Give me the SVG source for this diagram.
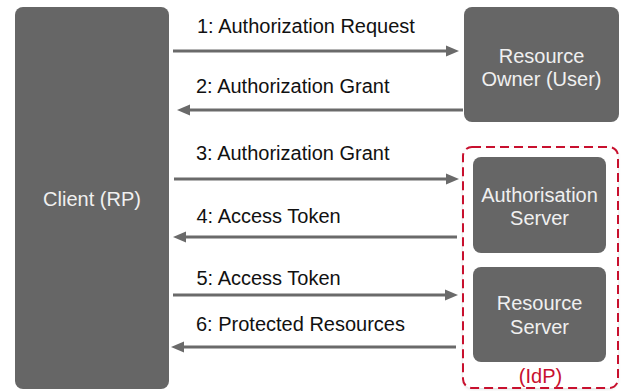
<svg xmlns="http://www.w3.org/2000/svg" width="621" height="391" viewBox="0 0 621 391">
<style>
.box{fill:#666666;}
.bt{font-family:"Liberation Sans",Arial,sans-serif;font-size:20px;fill:#f0f0f0;text-anchor:middle;}
.lbl{font-family:"Liberation Sans",Arial,sans-serif;font-size:20px;fill:#111111;}
.conn line{stroke:#6a6a6a;stroke-width:3;marker-end:url(#ah);}
</style>
<defs>
<marker id="ah" markerUnits="userSpaceOnUse" markerWidth="14" markerHeight="12" refX="0" refY="6" orient="auto">
<path d="M0,0.5 L13,6 L0,11.5 z" fill="#6a6a6a"/>
</marker>
<filter id="sh" x="-10%" y="-10%" width="120%" height="120%">
<feDropShadow dx="0" dy="1" stdDeviation="1.5" flood-color="#000" flood-opacity="0.15"/>
</filter>
</defs>
<rect width="621" height="391" fill="#ffffff"/>
<g id="idp">
<rect x="463" y="147" width="155" height="241" rx="9" fill="#ffffff" filter="url(#sh)"/>
<rect x="463" y="147" width="155" height="241" rx="9" fill="none" stroke="#c8102e" stroke-width="2" stroke-dasharray="9,5"/>
<text x="540.5" y="383" font-family="'Liberation Sans',Arial,sans-serif" font-size="20" fill="#c8102e" text-anchor="middle">(IdP)</text>
</g>
<g id="client">
<rect class="box" x="15" y="7" width="154" height="382" rx="8"/>
<text class="bt" x="92" y="206">Client (RP)</text>
</g>
<g id="owner">
<rect class="box" x="464" y="7" width="155" height="115" rx="8"/>
<text class="bt" x="541.5" y="63">Resource</text>
<text class="bt" x="541.5" y="85.5">Owner (User)</text>
</g>
<g id="authserver">
<rect class="box" x="473" y="157" width="133" height="96" rx="8"/>
<text class="bt" x="539.5" y="201.5">Authorisation</text>
<text class="bt" x="539.5" y="225">Server</text>
</g>
<g id="resserver">
<rect class="box" x="473" y="267" width="133" height="95" rx="8"/>
<text class="bt" x="539.5" y="310">Resource</text>
<text class="bt" x="539.5" y="334">Server</text>
</g>
<g id="connectors" class="conn">
<line x1="173" y1="51" x2="446" y2="51"/>
<line x1="463" y1="110" x2="190" y2="110"/>
<line x1="174" y1="179" x2="446" y2="179"/>
<line x1="457" y1="237" x2="186" y2="237"/>
<line x1="173" y1="295" x2="445" y2="295"/>
<line x1="456" y1="347" x2="184" y2="347"/>
</g>
<g id="labels">
<text class="lbl" x="197" y="32.5">1: Authorization Request</text>
<text class="lbl" x="196" y="93">2: Authorization Grant</text>
<text class="lbl" x="196" y="159.5">3: Authorization Grant</text>
<text class="lbl" x="196.5" y="223">4: Access Token</text>
<text class="lbl" x="196.5" y="285">5: Access Token</text>
<text class="lbl" x="196" y="331">6: Protected Resources</text>
</g>
</svg>
